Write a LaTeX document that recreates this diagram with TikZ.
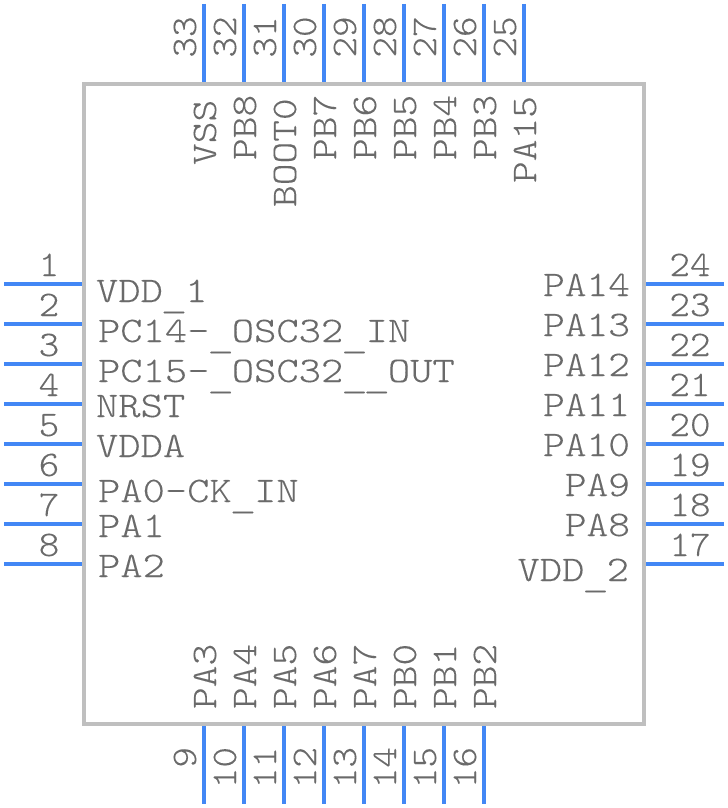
\documentclass[tikz,border=0pt]{standalone}
\usepackage{fontspec}
\newfontfamily\lblfont[FakeStretch=1.15,FakeBold=0.12]{Latin Modern Mono Light}
\newfontfamily\lblwide[FakeStretch=1.18,FakeBold=0.12]{Latin Modern Mono Light}
\newfontfamily\numfont[FakeStretch=1.09,FakeBold=0.12]{Latin Modern Mono Light}
\newcommand{\us}{\hbox to 22.3bp{\hss\raisebox{-5bp}{\scalebox{1.2}[1]{\_}}\hss}}
\definecolor{pinblue}{HTML}{4287F5}
\definecolor{bodygray}{HTML}{BFBFBF}
\definecolor{txtgray}{HTML}{6A6A6A}
\tikzset{
  x=1bp,y=-1bp,
  pin line/.style={draw=pinblue,line width=4bp},
  chip/.style={draw=bodygray,line width=4bp,fill=white},
  lbl/.style={inner sep=0pt,outer sep=0pt,text=txtgray,font=\lblfont\fontsize{36bp}{36bp}\selectfont},
  lblw/.style={inner sep=0pt,outer sep=0pt,text=txtgray,font=\lblwide\fontsize{36bp}{36bp}\selectfont},
  num/.style={inner sep=0pt,outer sep=0pt,text=txtgray,font=\numfont\fontsize{36bp}{36bp}\selectfont},
}
\begin{document}
\begin{tikzpicture}
\useasboundingbox (0,0) rectangle (728,808);
\draw[chip] (84,84) rectangle (644,724);
% left
\foreach \n/\y in {1/284,2/324,3/364,4/404,5/444,6/484,7/524,8/564}{
  \coordinate (la\n) at (4,\y); \coordinate (lb\n) at (82,\y);
  \draw[pin line] (la\n) -- (lb\n);
  \node[num,anchor=base] (ln\n) at (49,\y-8) {\n};
}
% right
\foreach \n/\y in {24/284,23/324,22/364,21/404,20/444,19/484,18/524,17/564}{
  \coordinate (ra\n) at (646,\y); \coordinate (rb\n) at (724,\y);
  \draw[pin line] (ra\n) -- (rb\n);
  \node[num,anchor=base] (rn\n) at (690,\y-8) {\n};
}
% top
\foreach \n/\x in {33/204,32/244,31/284,30/324,29/364,28/404,27/444,26/484,25/524}{
  \coordinate (ta\n) at (\x,4); \coordinate (tb\n) at (\x,82);
  \draw[pin line] (ta\n) -- (tb\n);
  \node[num,rotate=90,anchor=base] (tn\n) at (\x-8,37) {\n};
}
% bottom
\foreach \n/\x in {9/204,10/244,11/284,12/324,13/364,14/404,15/444,16/484}{
  \coordinate (ba\n) at (\x,726); \coordinate (bb\n) at (\x,804);
  \draw[pin line] (ba\n) -- (bb\n);
  \node[num,rotate=90,anchor=base east] (bn\n) at (\x-8,747) {\n};
}
% left labels
\foreach \t/\x/\y/\m in {VDD\us 1/96/302/a,PC14-\us OSC32\us IN/98/342/b,PC15-\us OSC32\us\us OUT/98/382/c,NRST/96/417/d,VDDA/96/457/e,PA0-CK\us IN/98/502/f,PA1/98/537/g,PA2/98/577/h}{
  \node[lblw,anchor=base west] (ll\m) at (\x,\y) {\t};
}
% right labels
\foreach \t/\x/\y/\m in {PA14/630/296/a,PA13/630/336/b,PA12/630/376/c,PA11/630/416/d,PA10/630/456/e,PA9/630/496/f,PA8/630/536/g}{
  \node[lbl,anchor=base east] (rl\m) at (\x,\y) {\t};
}
\node[lblw,anchor=base east] (rlh) at (629,581) {VDD\us 2};
% top labels
\foreach \t/\x/\y/\m in {VSS/216/165/a,PB8/256/160/b,BOOT0/296/207/c,PB7/336/160/d,PB6/376/160/e,PB5/416/160/f,PB4/456/160/g,PB3/496/160/h,PA15/536/183/i}{
  \node[lbl,rotate=90,anchor=base west] (tl\m) at (\x,\y) {\t};
}
% bottom labels
\foreach \t/\x/\m in {PA3/216/a,PA4/256/b,PA5/296/c,PA6/336/d,PA7/376/e,PB0/416/f,PB1/456/g,PB2/496/h}{
  \node[lbl,rotate=90,anchor=base west] (bl\m) at (\x,709) {\t};
}
\end{tikzpicture}
\end{document}
